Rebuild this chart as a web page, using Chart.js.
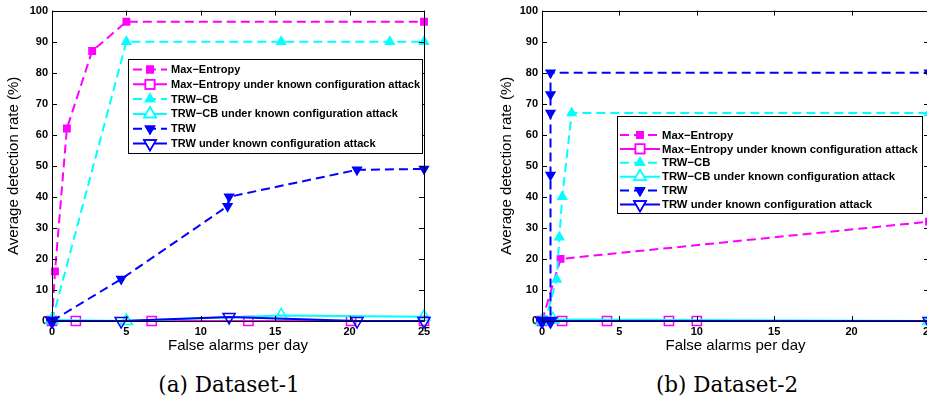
<!DOCTYPE html>
<html><head><meta charset="utf-8">
<script src="https://cdn.jsdelivr.net/npm/chart.js@4"></script>
<style>
html,body{margin:0;padding:0;background:#fff;width:927px;height:403px;overflow:hidden;position:relative}
.wrap{position:absolute;top:0;height:360px;width:470px}
#w1{left:0} #w2{left:470px}
.cap{position:absolute;top:372px;line-height:26px;font-family:"DejaVu Serif","Liberation Serif",serif;font-size:21.5px;color:#000;text-align:center;width:300px;white-space:nowrap}
#cap1{left:79px} #cap2{left:577px}
</style></head><body>
<div class="wrap" id="w1"><canvas id="c1" width="470" height="360"></canvas></div>
<div class="wrap" id="w2"><canvas id="c2" width="470" height="360"></canvas></div>
<div class="cap" id="cap1">(a) Dataset-1</div>
<div class="cap" id="cap2">(b) Dataset-2</div>
<script>
// ---------- tick labels ----------
const xTicks = [0, 5, 10, 15, 20, 25];
const yTicks = [0, 10, 20, 30, 40, 50, 60, 70, 80, 90, 100];
const seriesNames = [
  'Max\u2212Entropy',
  'Max\u2212Entropy under known configuration attack',
  'TRW\u2212CB',
  'TRW\u2212CB under known configuration attack',
  'TRW',
  'TRW under known configuration attack'
];
const xTitle = 'False alarms per day';
const yTitle = 'Average detection rate (%)';

// ---------- Dataset-1 ----------
const d1MaxEntX  = [0, 0.2, 1.0, 2.7, 5.0, 25];
const d1MaxEntY  = [0, 16, 62, 87, 96.4, 96.4];
const d1MaxEntAX = [0, 1.6, 6.7, 13.2, 20.1, 25];
const d1MaxEntAY = [0, 0, 0, 0, 0, 0];
const d1TrwCbX   = [0, 5.0, 15.4, 22.7, 25];
const d1TrwCbY   = [0, 90, 90, 90, 90];
const d1TrwCbAX  = [0, 5.0, 15.4, 25];
const d1TrwCbAY  = [0.3, 0, 1.8, 1.4];
const d1TrwX     = [0, 4.65, 11.8, 11.9, 20.5, 25];
const d1TrwY     = [0, 13.5, 37, 40, 48.7, 49];
const d1TrwAX    = [0, 4.65, 11.9, 20.5, 25];
const d1TrwAY    = [0, 0, 1.3, 0, 0];

// ---------- Dataset-2 ----------
const d2MaxEntX  = [0, 1.2, 25];
const d2MaxEntY  = [0, 20, 32];
const d2MaxEntAX = [0, 1.3, 4.2, 8.2, 10.0];
const d2MaxEntAY = [0, 0, 0, 0, 0];
const d2TrwCbX   = [0, 0.2, 0.95, 1.12, 1.31, 1.92, 25];
const d2TrwCbY   = [0, 0, 13.4, 27, 40, 67, 67];
const d2TrwCbAX  = [0, 0.7, 25];
const d2TrwCbAY  = [0, 0.5, 0];
const d2TrwX     = [0, 0.55, 0.55, 0.55, 0.55, 0.55, 25];
const d2TrwY     = [0, 0, 47, 67, 73, 80, 80];
const d2TrwAX    = [0, 0.55, 25];
const d2TrwAY    = [0, 0, 0];

// ---------- styles ----------
const DASH = [9, 5];
const styles = [
  {color:'#ff00ff', dash:DASH, pt:'rect',     r:4.5, fill:true,  rot:0},
  {color:'#ff00ff', dash:[],   pt:'rect',     r:6.5, fill:false, rot:0},
  {color:'#00ffff', dash:DASH, pt:'triangle', r:5,   fill:true,  rot:0},
  {color:'#00ffff', dash:[],   pt:'triangle', r:7,   fill:false, rot:0},
  {color:'#0000ff', dash:DASH, pt:'triangle', r:5,   fill:true,  rot:180},
  {color:'#0000ff', dash:[],   pt:'triangle', r:7,   fill:false, rot:180}
];

function zip(xs, ys){ return xs.map((x,i)=>({x:x, y:ys[i]})); }

function makeDatasets(pairs){
  return pairs.map((p,i)=>{
    const s = styles[i];
    return {
      label: seriesNames[i],
      data: zip(p[0], p[1]),
      showLine: true,
      tension: 0,
      borderColor: s.color,
      backgroundColor: s.fill ? s.color : 'rgba(0,0,0,0)',
      borderWidth: 2,
      borderDash: s.dash,
      pointStyle: s.pt,
      pointRadius: s.r,
      pointRotation: s.rot,
      pointBorderWidth: 1.5,
      pointBorderColor: s.color,
      pointBackgroundColor: s.fill ? s.color : 'rgba(0,0,0,0)',
      clip: false,
      order: 6 - i
    };
  });
}

const frame = {
  id:'frame',
  afterDatasetsDraw(chart){
    const {ctx, chartArea:a, scales} = chart;
    const xs = scales.x, ys = scales.y;
    ctx.save();
    ctx.strokeStyle = '#000';
    ctx.lineWidth = 1;
    ctx.setLineDash([]);
    ctx.beginPath();
    ctx.rect(Math.round(a.left)+0.5, Math.round(a.top)+0.5, Math.round(a.right-a.left), Math.round(a.bottom-a.top));
    ctx.stroke();
    const T = 5;
    ctx.beginPath();
    xTicks.forEach(v=>{
      const px = Math.round(xs.getPixelForValue(v))+0.5;
      ctx.moveTo(px, a.bottom); ctx.lineTo(px, a.bottom - T);
      ctx.moveTo(px, a.top); ctx.lineTo(px, a.top + T);
    });
    yTicks.forEach(v=>{
      const py = Math.round(ys.getPixelForValue(v))+0.5;
      ctx.moveTo(a.left, py); ctx.lineTo(a.left + T, py);
      ctx.moveTo(a.right, py); ctx.lineTo(a.right - T, py);
    });
    ctx.stroke();
    ctx.restore();
  }
};

function drawMarker(ctx, s, x, y){
  ctx.save();
  ctx.setLineDash([]);
  ctx.lineWidth = 1.5;
  ctx.strokeStyle = s.color;
  ctx.fillStyle = s.fill ? s.color : '#fff';
  if (Chart.helpers && Chart.helpers.drawPoint){
    Chart.helpers.drawPoint(ctx, {pointStyle:s.pt, radius:s.r, rotation:s.rot, borderWidth:1.5}, x, y);
    if (s.fill) ctx.fill();
    ctx.stroke();
  }
  ctx.restore();
}

function legendPlugin(box){
  return {
    id:'boxLegend',
    afterDraw(chart){
      const ctx = chart.ctx;
      ctx.save();
      ctx.fillStyle = '#fff';
      ctx.fillRect(box.x, box.y, box.w, box.h);
      ctx.strokeStyle = '#000';
      ctx.lineWidth = 1;
      ctx.setLineDash([]);
      ctx.strokeRect(box.x+0.5, box.y+0.5, box.w, box.h);
      ctx.font = 'bold ' + box.font + 'px "Liberation Sans", Arial, sans-serif';
      ctx.textBaseline = 'middle';
      ctx.textAlign = 'left';
      seriesNames.forEach((name,i)=>{
        const s = styles[i];
        const yy = box.y + box.first + i*box.step;
        const x0 = box.x + box.sx0, x1 = box.x + box.sx1;
        ctx.save();
        ctx.strokeStyle = s.color;
        ctx.lineWidth = 2;
        ctx.setLineDash(s.dash);
        ctx.beginPath(); ctx.moveTo(x0, yy); ctx.lineTo(x1, yy); ctx.stroke();
        ctx.restore();
        drawMarker(ctx, s, (x0+x1)/2, yy);
        ctx.fillStyle = '#000';
        ctx.fillText(name, box.x + box.tx, yy + 0.5);
      });
      ctx.restore();
    }
  };
}

function makeChart(id, datasets, opt){
  const tickFont = {family:'"Liberation Sans", Arial, sans-serif', weight:'bold', size:11};
  const titleFont = {family:'"Liberation Sans", Arial, sans-serif', size:15};
  return new Chart(document.getElementById(id), {
    type:'scatter',
    data:{datasets:datasets},
    options:{
      responsive:false,
      animation:false,
      events:[],
      layout:{padding:{left:0, top:9, right:opt.padRight, bottom:0}},
      plugins:{legend:{display:false}, tooltip:{enabled:false}},
      scales:{
        x:{
          type:'linear', min:0, max:25,
          afterBuildTicks: s => { s.ticks = xTicks.map(v=>({value:v})); },
          ticks:{font:tickFont, color:'#000', padding:4, maxRotation:0, autoSkip:false},
          grid:{display:false, drawTicks:false},
          border:{display:false},
          title:{display:true, text:xTitle, font:titleFont, color:'#000', padding:{top:0, bottom:5}},
          afterFit: s => { s.height = 39; }
        },
        y:{
          type:'linear', min:0, max:100,
          afterBuildTicks: s => { s.ticks = yTicks.map(v=>({value:v})); },
          ticks:{font:tickFont, color:'#000', padding:4, autoSkip:false},
          grid:{display:false, drawTicks:false},
          border:{display:false},
          title:{display:true, text:yTitle, font:titleFont, color:'#000', padding:{top:opt.yTitlePad, bottom:0}},
          afterFit: s => { s.width = opt.yWidth; }
        }
      }
    },
    plugins:[frame, legendPlugin(opt.legend)]
  });
}

makeChart('c1', makeDatasets([
  [d1MaxEntX, d1MaxEntY], [d1MaxEntAX, d1MaxEntAY],
  [d1TrwCbX, d1TrwCbY], [d1TrwCbAX, d1TrwCbAY],
  [d1TrwX, d1TrwY], [d1TrwAX, d1TrwAY]
]), {padRight:46, yWidth:52, yTitlePad:5,
     legend:{x:128, y:59, w:294, h:94, first:10.5, step:14.8, sx0:5, sx1:39, tx:43, font:11}});

makeChart('c2', makeDatasets([
  [d2MaxEntX, d2MaxEntY], [d2MaxEntAX, d2MaxEntAY],
  [d2TrwCbX, d2TrwCbY], [d2TrwCbAX, d2TrwCbAY],
  [d2TrwX, d2TrwY], [d2TrwAX, d2TrwAY]
]), {padRight:11, yWidth:72, yTitlePad:27.5,
     legend:{x:147, y:116, w:305, h:97, first:19, step:13.9, sx0:3, sx1:43, tx:45, font:11.3}});
</script>
</body></html>
